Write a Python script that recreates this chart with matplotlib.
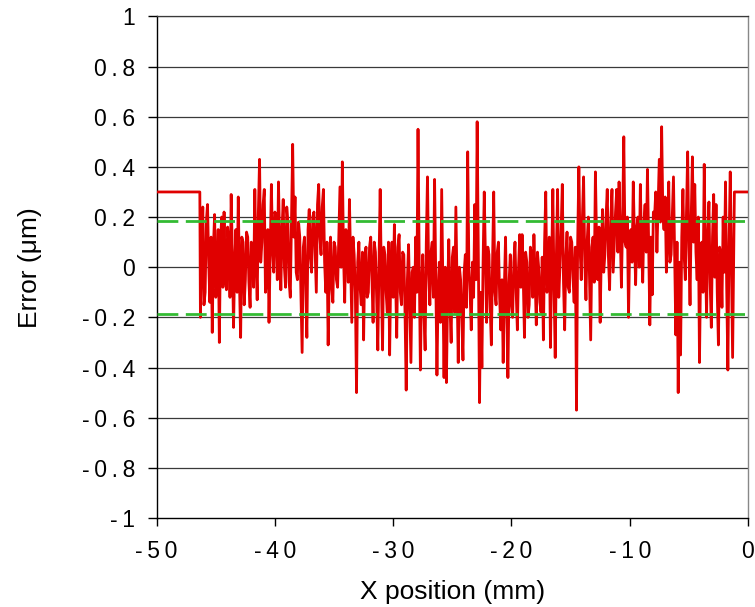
import numpy as np
import matplotlib
matplotlib.use("Agg")
import matplotlib.pyplot as plt

plt.rcParams['font.family'] = ['Liberation Sans', 'DejaVu Sans']

# flat parts of the trace (outside the measured range)
left_flat_x = [-50.0, -46.35]
left_flat_y = [0.30, 0.30]
right_flat_x = [-1.15, 0.0]
right_flat_y = [0.30, 0.30]

# measured error, one value every 0.1 mm starting at -46.3 mm
noise_start = -46.3
noise_step = 0.1
noise = [
    -0.20, 0.05, 0.24, -0.15, -0.10, 0.18, 0.25, 0.02, -0.14, 0.12, -0.26, 0.08, 0.21, -0.12, -0.05, 0.15, -0.30, 0.10, 0.20, -0.08,
    0.22, -0.04, -0.09, 0.16, 0.10, -0.12, 0.29, 0.05, -0.24, 0.02, 0.15, -0.10, 0.28, -0.06, -0.28, 0.12, 0.10, -0.15, -0.05, 0.14,
    0.12, -0.06, -0.16, 0.10, 0.08, -0.08, 0.31, 0.04, -0.13, 0.22, 0.43, 0.02, 0.10, 0.25, 0.31, -0.10, -0.05, 0.15, -0.22, 0.05,
    0.33, 0.08, -0.02, 0.22, 0.20, -0.05, 0.34, 0.10, -0.09, 0.15, 0.27, 0.00, -0.08, 0.24, 0.18, -0.06, -0.12, 0.20, 0.49, 0.12,
    0.28, -0.02, -0.05, 0.18, 0.12, -0.10, -0.34, 0.08, 0.12, -0.06, -0.28, 0.15, 0.23, 0.04, -0.02, 0.20, 0.22, 0.06, -0.10, 0.25,
    0.33, 0.12, 0.05, 0.24, 0.31, 0.02, -0.10, 0.10, -0.31, -0.02, 0.12, -0.08, -0.14, 0.10, 0.08, -0.05, -0.08, 0.12, 0.32, 0.00,
    0.42, 0.05, -0.14, 0.15, 0.10, -0.06, 0.27, 0.02, -0.22, 0.12, 0.05, -0.10, -0.50, 0.02, 0.10, -0.08, -0.15, 0.06, -0.29, 0.04,
    0.08, -0.12, -0.10, 0.08, 0.12, -0.04, -0.22, 0.10, 0.06, -0.12, -0.33, 0.02, 0.31, -0.05, -0.33, 0.08, 0.05, -0.10, -0.18, 0.10,
    -0.35, 0.00, 0.10, -0.12, 0.17, -0.04, -0.28, 0.08, 0.13, -0.10, -0.15, 0.06, 0.05, -0.18, -0.49, -0.05, 0.09, -0.14, -0.38, -0.02,
    0.00, -0.20, 0.12, -0.10, 0.55, 0.02, -0.41, -0.08, 0.05, -0.18, -0.33, 0.10, 0.36, -0.02, -0.15, 0.06, 0.10, -0.12, 0.35, -0.05,
    -0.43, -0.10, 0.02, -0.22, 0.31, -0.06, -0.44, 0.00, -0.46, -0.12, 0.11, -0.15, -0.30, 0.04, 0.08, -0.18, 0.24, -0.08, -0.38, 0.00,
    -0.05, -0.20, -0.37, -0.02, 0.05, -0.16, 0.46, 0.00, -0.10, -0.25, 0.02, -0.12, 0.25, -0.05, 0.58, 0.05, -0.54, -0.10, -0.40, 0.02,
    0.30, 0.04, -0.22, 0.08, 0.05, -0.16, -0.31, 0.02, 0.30, -0.10, -0.15, 0.06, 0.10, -0.12, -0.25, -0.05, -0.38, -0.08, 0.12, -0.18,
    -0.44, -0.06, 0.05, -0.15, -0.20, 0.02, 0.10, -0.10, -0.25, 0.00, 0.13, -0.08, 0.13, -0.05, -0.28, 0.06, 0.02, -0.20, -0.15, 0.08,
    0.05, -0.12, 0.13, -0.04, -0.23, 0.06, 0.00, -0.14, -0.18, 0.04, -0.29, 0.10, 0.30, -0.10, -0.05, 0.12, -0.32, 0.02, 0.31, -0.08,
    -0.36, 0.05, 0.31, -0.12, 0.00, 0.15, 0.33, -0.06, -0.25, 0.04, 0.14, -0.08, -0.10, 0.12, 0.10, -0.04, -0.14, 0.08, -0.57, 0.10,
    0.40, 0.08, -0.05, 0.20, 0.36, 0.02, -0.13, 0.10, 0.20, -0.04, -0.29, 0.08, 0.12, -0.06, 0.38, 0.10, -0.05, 0.16, -0.22, 0.06,
    0.23, -0.02, 0.05, 0.20, 0.31, 0.04, -0.09, 0.18, 0.31, -0.02, 0.10, 0.22, 0.31, 0.06, 0.34, 0.12, -0.08, 0.20, 0.52, 0.10,
    0.08, 0.20, -0.20, 0.10, 0.15, 0.02, 0.34, 0.12, -0.07, 0.16, 0.20, 0.00, 0.33, 0.08, -0.06, 0.18, 0.25, 0.06, 0.39, 0.10,
    -0.23, 0.12, -0.11, 0.22, 0.20, 0.30, 0.06, 0.25, 0.43, 0.18, 0.56, 0.22, 0.15, 0.28, -0.02, 0.12, 0.34, 0.02, 0.05, 0.20,
    0.36, 0.04, -0.27, 0.10, -0.50, 0.02, -0.35, 0.12, 0.31, 0.05, -0.05, 0.22, 0.46, 0.08, -0.15, 0.20, 0.44, 0.10, 0.33, 0.06,
    -0.05, 0.20, -0.38, 0.02, 0.10, -0.10, 0.41, 0.05, -0.20, 0.14, 0.26, -0.06, -0.24, 0.12, 0.29, -0.04, 0.25, -0.10, -0.31, 0.08,
    0.05, -0.16, 0.20, -0.02, 0.34, -0.08, -0.41, 0.10, 0.38, 0.00, -0.36,
]

limits = [0.185, -0.185]

sp = "\u2009"
xticks = [-50, -40, -30, -20, -10, 0]
xticklabels = [sp.join(f"{v:g}") for v in xticks]
yticks = [-1, -0.8, -0.6, -0.4, -0.2, 0, 0.2, 0.4, 0.6, 0.8, 1]
yticklabels = [sp.join(f"{v:g}") for v in yticks]

noise_x = noise_start + noise_step * np.arange(len(noise))
x = np.concatenate([left_flat_x, noise_x, right_flat_x])
y = np.concatenate([left_flat_y, noise, right_flat_y])

fig = plt.figure(figsize=(7.55, 6.07), dpi=100)
ax = fig.add_axes([0.2075, 0.1466, 0.7832, 0.8264])

for yv in yticks[1:]:
    ax.axhline(yv, color='#3a3a3a', lw=0.9, zorder=1)

ax.plot(x, y, color='#e00000', lw=2.0, zorder=3)
for lv in limits:
    ax.axhline(lv, color='#33bb33', lw=2.0, dashes=(7.5, 2.7), zorder=4)

ax.set_xlim(-50, 0)
ax.set_ylim(-1, 1)
ax.set_xticks(xticks)
ax.set_xticklabels(xticklabels)
ax.set_yticks(yticks)
ax.set_yticklabels(yticklabels)
ax.tick_params(axis='x', direction='out', length=6, width=1, pad=10, labelsize=16.5)
ax.tick_params(axis='y', direction='out', length=6.5, width=1, pad=9, labelsize=16.5)

for s in ['left', 'bottom']:
    ax.spines[s].set_color('black')
    ax.spines[s].set_linewidth(1.0)
ax.spines['right'].set_color('#888888')
ax.spines['top'].set_color('#3a3a3a')
ax.spines['right'].set_linewidth(1.0)
ax.spines['top'].set_linewidth(0.9)

ax.set_xlabel("X position (mm)", fontsize=19)
ax.set_ylabel("Error (μm)", fontsize=19)
ax.xaxis.set_label_coords(0.5, -0.147)
ax.xaxis.label.set_va('center')
ax.yaxis.set_label_coords(-0.214, 0.5)
ax.yaxis.label.set_va('center')

fig.savefig("out.png", dpi=100)
